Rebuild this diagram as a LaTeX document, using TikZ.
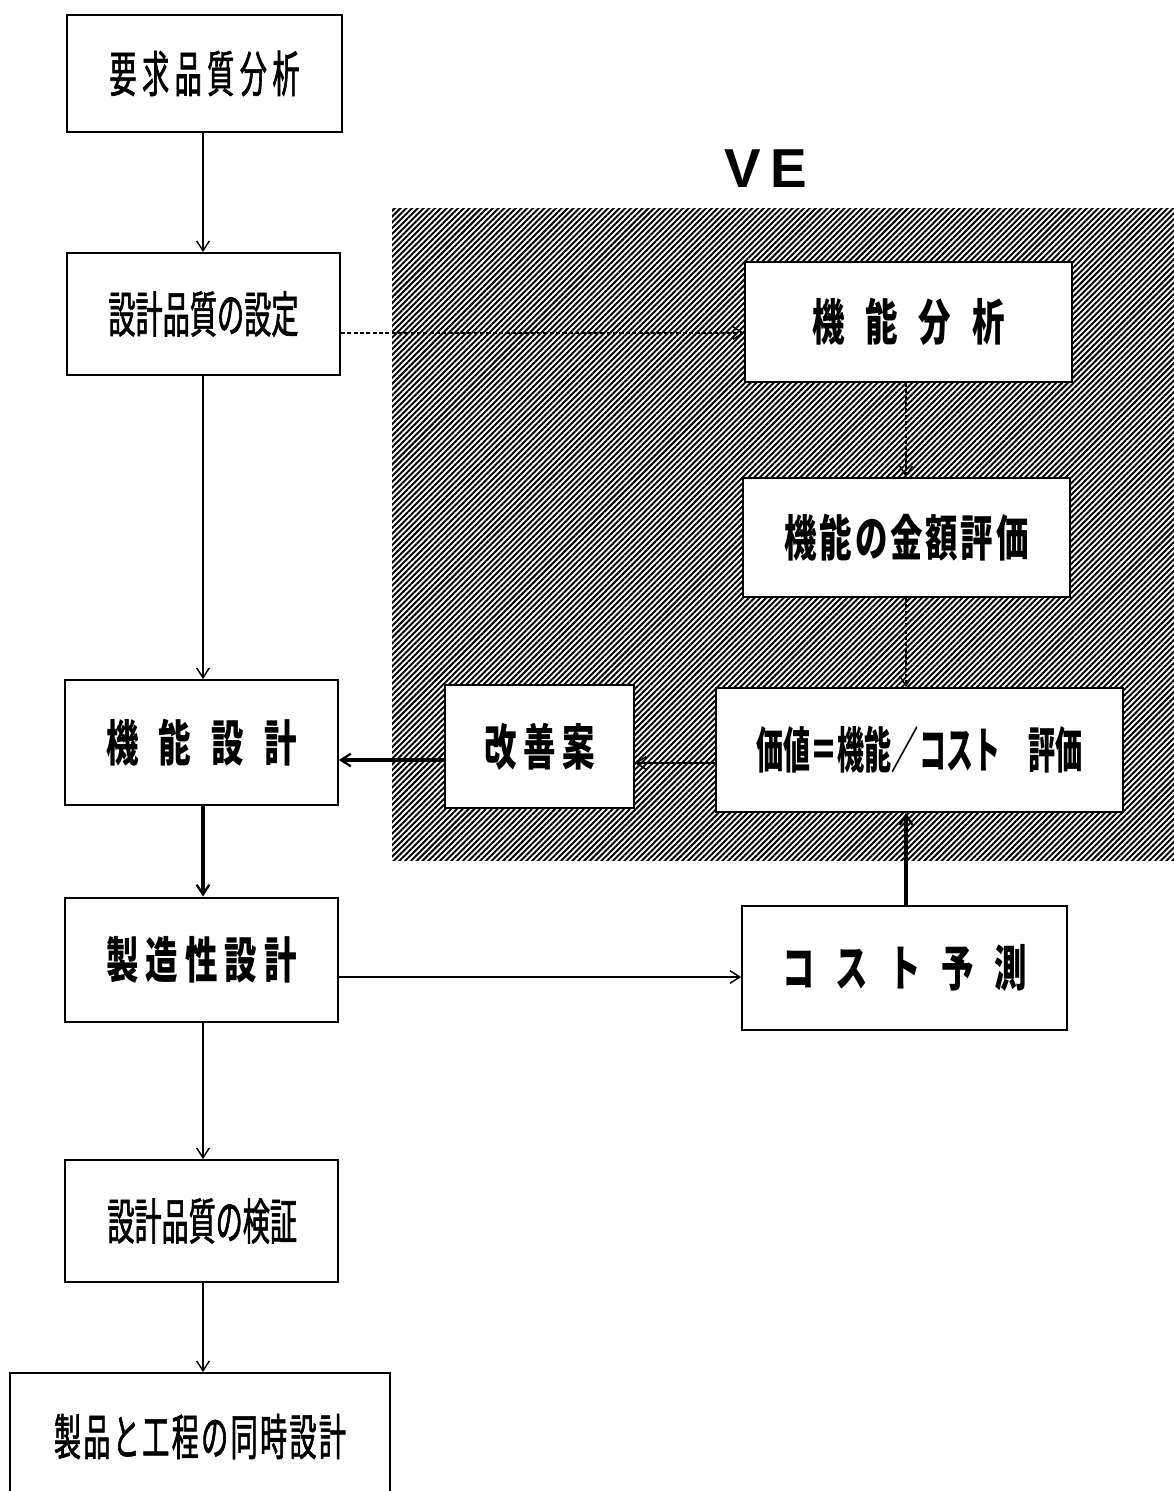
\documentclass[tikz,border=0pt]{standalone}
\usepackage{fontspec}
\usetikzlibrary{arrows.meta,patterns.meta}
\newfontfamily\cjkw[FakeStretch=0.66]{Noto Sans CJK JP}
\newfontfamily\cjkn[FakeStretch=0.55]{Noto Sans CJK JP}
\newfontfamily\cjkm[FakeStretch=0.55,FakeBold=1.2]{Noto Sans CJK JP}
\newfontfamily\vefont{Liberation Sans}
\newcommand\spreadtxt[2]{\makebox[#1][s]{#2}}
\begin{document}
\begin{tikzpicture}[x=0.025cm,y=-0.025cm,
  box/.style={draw,line width=1.3pt,fill=white,inner sep=0pt,font=\fontsize{35}{40}\selectfont},
  thickbox/.style={box,line width=2pt},
  arr/.style={-{Straight Barb[length=7pt,width=9pt,line width=1pt]},line width=0.8pt},
  darr/.style={arr,dash pattern=on 3pt off 1.5pt},
  tarr/.style={-{Straight Barb[length=7pt,width=9pt,line width=1.6pt]},line width=2.4pt}]
\clip (0,0) rectangle (1174,1491);
% hatched VE region
\fill[pattern={Lines[angle=45,distance=2.9pt,line width=1.4pt]}] (392,208) rectangle (1180,860);
\node[font=\vefont\bfseries\fontsize{39}{44}\selectfont] (ve) at (766,169) {V\,E};
% left column
\node[box,minimum width={275*0.025cm},minimum height={117*0.025cm}] (q1) at (204.5,73.5) {\cjkm\spreadtxt{4.75cm}{要\hfill 求\hfill 品\hfill 質\hfill 分\hfill 析}};
\node[box,minimum width={273*0.025cm},minimum height={122*0.025cm}] (q2) at (203.5,314) {\cjkm\spreadtxt{4.75cm}{設\hfill 計\hfill 品\hfill 質\hfill の\hfill 設\hfill 定}};
\node[box,minimum width={273*0.025cm},minimum height={125*0.025cm}] (fd) at (201.5,742.5) {\cjkw\bfseries\spreadtxt{4.75cm}{機\hfill 能\hfill 設\hfill 計}};
\node[thickbox,minimum width={273*0.025cm},minimum height={124*0.025cm}] (md) at (201.5,960) {\cjkw\bfseries\spreadtxt{4.75cm}{製\hfill 造\hfill 性\hfill 設\hfill 計}};
\node[box,minimum width={273*0.025cm},minimum height={122*0.025cm}] (vq) at (201.5,1221) {\cjkm\spreadtxt{4.7cm}{設\hfill 計\hfill 品\hfill 質\hfill の\hfill 検\hfill 証}};
\node[box,minimum width={380*0.025cm},minimum height={127*0.025cm}] (cd) at (200,1436.5) {\cjkm\spreadtxt{7.3cm}{製\hfill 品\hfill と\hfill 工\hfill 程\hfill の\hfill 同\hfill 時\hfill 設\hfill 計}};
% VE boxes
\node[box,minimum width={327*0.025cm},minimum height={120*0.025cm}] (fa) at (908.5,322) {\cjkw\bfseries\spreadtxt{4.8cm}{機\hfill 能\hfill 分\hfill 析}};
\node[box,minimum width={327*0.025cm},minimum height={119*0.025cm}] (fe) at (906.5,537.5) {\cjkw\bfseries\spreadtxt{6.1cm}{機\hfill 能\hfill の\hfill 金\hfill 額\hfill 評\hfill 価}};
\node[box,minimum width={407*0.025cm},minimum height={124*0.025cm}] (va) at (919.5,750) {\cjkn\bfseries\spreadtxt{8.15cm}{価\hfill 値\hfill ＝\hfill 機\hfill 能\hfill ／\hfill コ\hfill ス\hfill ト\hfill \hspace{0.7cm}\hfill 評\hfill 価}};
\node[box,minimum width={189*0.025cm},minimum height={123*0.025cm}] (kz) at (539.5,746.5) {\cjkw\bfseries\spreadtxt{2.75cm}{改\hfill 善\hfill 案}};
\node[box,minimum width={325*0.025cm},minimum height={124*0.025cm}] (cp) at (904.5,968) {\cjkw\bfseries\spreadtxt{6.1cm}{コ\hfill ス\hfill ト\hfill 予\hfill 測}};
% connectors
\draw[arr] (q1.south -| 203,0) -- (q2.north -| 203,0);
\draw[arr] (q2.south -| 203,0) -- (fd.north -| 203,0);
\draw[darr] (q2.east |- 0,333) -- (fa.west |- 0,333);
\draw[darr] (fa.south -| 906,0) -- (fe.north -| 906,0);
\draw[darr] (fe.south -| 906,0) -- (va.north -| 906,0);
\draw[arr,line width=1.4pt] (va.west |- 0,763) -- (kz.east |- 0,763);
\draw[tarr] (kz.west |- 0,760) -- (fd.east |- 0,760);
\draw[tarr] (fd.south -| 203,0) -- (md.north -| 203,0);
\draw[arr,line width=1.6pt] (md.east |- 0,977) -- (cp.west |- 0,977);
\draw[tarr] (cp.north -| 906,0) -- (va.south -| 906,0);
\draw[arr] (md.south -| 203,0) -- (vq.north -| 203,0);
\draw[arr] (vq.south -| 203,0) -- (cd.north -| 203,0);
\end{tikzpicture}
\end{document}
